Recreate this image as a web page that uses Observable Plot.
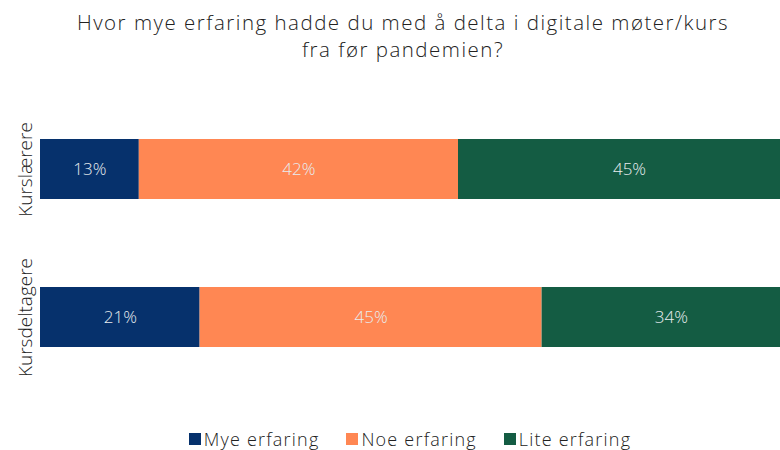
<!DOCTYPE html>
<html>
<head>
<meta charset="utf-8">
<script src="https://cdn.jsdelivr.net/npm/d3@7"></script>
<script src="https://cdn.jsdelivr.net/npm/@observablehq/plot@0.6"></script>
<style>
  html, body { margin: 0; padding: 0; background: #fff; overflow: hidden; }
  body { width: 780px; height: 450px; position: relative; font-family: "Open Sans", Lato, sans-serif; font-weight: 300; color: #222; }
  #chart { position: absolute; left: 0; top: 0; }
  #chart svg { overflow: hidden; }
  .tline { position: absolute; left: 13px; width: 780px; text-align: center; font-size: 20.5px; line-height: 28px; font-weight: 300; letter-spacing: 1.5px; white-space: nowrap; }
  #t1 { top: 8px; }
  #t2 { top: 35px; }
  #legend { position: absolute; left: 40px; width: 740px; top: 427px; display: flex; justify-content: center; gap: 27px; font-size: 18px; font-weight: 300; letter-spacing: 1.2px; }
  #legend .item { display: flex; align-items: center; }
  #legend .sw { width: 12px; height: 12px; margin-right: 3px; }
</style>
</head>
<body>
<div id="chart"></div>
<div id="t1" class="tline">Hvor mye erfaring hadde du med å delta i digitale møter/kurs</div>
<div id="t2" class="tline">fra før pandemien?</div>
<div id="legend"></div>
<script>
const categories = ["Kurslærere", "Kursdeltagere"];
const series = ["Mye erfaring", "Noe erfaring", "Lite erfaring"];
const colors = ["#06316C", "#FF8753", "#145C43"];
const myeErfaring = [13, 21];
const noeErfaring = [42, 45];
const liteErfaring = [45, 34];

const seriesValues = [myeErfaring, noeErfaring, liteErfaring];
const data = [];
categories.forEach((c, i) => {
  series.forEach((s, j) => {
    data.push({category: c, series: s, value: seriesValues[j][i]});
  });
});

const chart = Plot.plot({
  width: 780,
  height: 450,
  marginLeft: 40,
  marginRight: 0,
  marginTop: 0,
  marginBottom: 0,
  style: {fontFamily: "'Open Sans', Lato, sans-serif", fontWeight: 300, background: "transparent"},
  x: {domain: [0, 100], range: [40, 800], axis: null},
  y: {domain: categories, range: [138, 347], paddingInner: 0.595, paddingOuter: 0, axis: null},
  color: {domain: series, range: colors},
  marks: [
    Plot.barX(data, Plot.stackX({x: "value", y: "category", fill: "series", z: "series", order: series})),
    Plot.text(data, Plot.stackX({x: "value", y: "category", z: "series", text: d => d.value + "%", order: series, fill: "#e8ecef", fontSize: 17, fontWeight: 300, letterSpacing: 0.5})),
    Plot.text(categories, {y: d => d, text: d => d, frameAnchor: "left", textAnchor: "middle", dx: -15, rotate: -90, fontSize: 19, fill: "#222", fontWeight: 300, letterSpacing: 0.6})
  ]
});
document.getElementById("chart").appendChild(chart);

const legend = document.getElementById("legend");
series.forEach((s, i) => {
  const item = document.createElement("div");
  item.className = "item";
  const sw = document.createElement("span");
  sw.className = "sw";
  sw.style.background = colors[i];
  const label = document.createElement("span");
  label.textContent = s;
  item.appendChild(sw);
  item.appendChild(label);
  legend.appendChild(item);
});
</script>
</body>
</html>
